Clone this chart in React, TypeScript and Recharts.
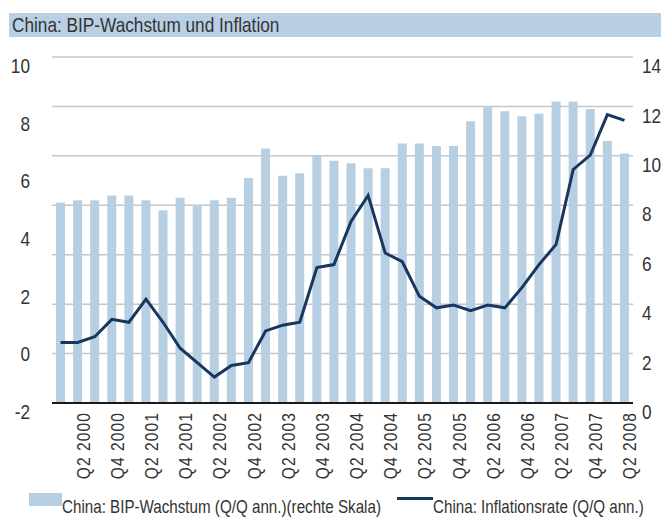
import React from "react"
import { ComposedChart, Bar, Line, XAxis, YAxis, CartesianGrid } from "recharts"

const quarters = [
  "Q1 2000", "Q2 2000", "Q3 2000", "Q4 2000",
  "Q1 2001", "Q2 2001", "Q3 2001", "Q4 2001",
  "Q1 2002", "Q2 2002", "Q3 2002", "Q4 2002",
  "Q1 2003", "Q2 2003", "Q3 2003", "Q4 2003",
  "Q1 2004", "Q2 2004", "Q3 2004", "Q4 2004",
  "Q1 2005", "Q2 2005", "Q3 2005", "Q4 2005",
  "Q1 2006", "Q2 2006", "Q3 2006", "Q4 2006",
  "Q1 2007", "Q2 2007", "Q3 2007", "Q4 2007",
  "Q1 2008", "Q2 2008",
]

// BIP-Wachstum (rechte Skala)
const gdpGrowth = [
  8.1, 8.2, 8.2, 8.4, 8.4, 8.2, 7.8, 8.3,
  8.0, 8.2, 8.3, 9.1, 10.3, 9.2, 9.3, 10.0,
  9.8, 9.7, 9.5, 9.5, 10.5, 10.5, 10.4, 10.4,
  11.4, 12.0, 11.8, 11.6, 11.7, 12.2, 12.2, 11.9,
  10.6, 10.1,
]

// Inflationsrate (linke Skala)
const inflation = [
  0.1, 0.1, 0.3, 0.9, 0.8, 1.6, 0.8, -0.1,
  -0.6, -1.1, -0.7, -0.6, 0.5, 0.7, 0.8, 2.7,
  2.8, 4.3, 5.2, 3.2, 2.9, 1.7, 1.3, 1.4,
  1.2, 1.4, 1.3, 2.0, 2.8, 3.5, 6.1, 6.6,
  8.0, 7.8,
]

const leftTicks = [-2, 0, 2, 4, 6, 8, 10]
const rightTicks = [0, 2, 4, 6, 8, 10, 12, 14]
const xLabels = quarters.filter((q) => q.startsWith("Q2") || q.startsWith("Q4"))

// Arial-Narrow-Ersatz: Liberation Sans, horizontal gestaucht
const FONT = "'Liberation Sans', Arial, sans-serif"
const NARROW = 0.82
const BAR_COLOR = "#b7cfe3"
const LINE_COLOR = "#17375e"
const TEXT_COLOR = "#333333"

const data = quarters.map((q, i) => ({
  quarter: q,
  gdp: gdpGrowth[i],
  cpi: inflation[i],
}))

const LeftTick = ({ x, y, payload }: any) => (
  <text
    transform={`translate(${x}, ${y + 9}) scale(${NARROW}, 1)`}
    textAnchor="end"
    dominantBaseline="central"
    fontSize={21}
    fill={TEXT_COLOR}
    fontFamily={FONT}
  >
    {payload.value}
  </text>
)

const RightTick = ({ x, y, payload }: any) => (
  <text
    transform={`translate(${x}, ${y + 9}) scale(${NARROW}, 1)`}
    textAnchor="start"
    dominantBaseline="central"
    fontSize={21}
    fill={TEXT_COLOR}
    fontFamily={FONT}
  >
    {payload.value}
  </text>
)

const BottomTick = ({ x, y, payload }: any) => (
  <text
    transform={`translate(${x + 12}, ${y}) rotate(-90) scale(${NARROW}, 1)`}
    textAnchor="end"
    fontSize={19}
    letterSpacing={1.3}
    fill={TEXT_COLOR}
    fontFamily={FONT}
  >
    {payload.value}
  </text>
)

const narrowText: React.CSSProperties = {
  position: "absolute",
  fontFamily: FONT,
  color: TEXT_COLOR,
  whiteSpace: "nowrap",
  transform: `scaleX(${NARROW})`,
  transformOrigin: "left center",
}

export default function App() {
  return (
    <div style={{ position: "absolute", left: 0, top: 0, width: 661, height: 519, background: "#fff", overflow: "hidden" }}>
      <div style={{ position: "absolute", left: 9, top: 13, width: 652, height: 24, background: "#b9cfe3" }} />
      <div style={{ ...narrowText, left: 12, top: 12, fontSize: 21, lineHeight: "26px" }}>
        China: BIP-Wachstum und Inflation
      </div>

      <ComposedChart
        width={661}
        height={519}
        data={data}
        margin={{ top: 57, right: 0, bottom: 0, left: 0 }}
        style={{ position: "absolute", left: 0, top: 0 }}
      >
        <CartesianGrid yAxisId="right" vertical={false} stroke="#c6c6c6" strokeWidth={1.5} />
        <XAxis
          dataKey="quarter"
          ticks={xLabels}
          interval={0}
          height={116}
          tickLine={false}
          tickSize={0}
          tickMargin={9}
          axisLine={{ stroke: "#1a1a1a", strokeWidth: 2 }}
          tick={<BottomTick />}
        />
        <YAxis
          yAxisId="left"
          orientation="left"
          width={52}
          domain={[-2, 10]}
          ticks={leftTicks}
          axisLine={false}
          tickLine={false}
          tickSize={0}
          tickMargin={22}
          tick={<LeftTick />}
        />
        <YAxis
          yAxisId="right"
          orientation="right"
          width={28}
          domain={[0, 14]}
          ticks={rightTicks}
          axisLine={false}
          tickLine={false}
          tickSize={0}
          tickMargin={9}
          tick={<RightTick />}
        />
        <Bar yAxisId="right" dataKey="gdp" fill={BAR_COLOR} barSize={9} isAnimationActive={false} />
        <Line
          yAxisId="left"
          type="linear"
          dataKey="cpi"
          stroke={LINE_COLOR}
          strokeWidth={3}
          dot={false}
          activeDot={false}
          isAnimationActive={false}
        />
      </ComposedChart>

      <div style={{ position: "absolute", left: 29, top: 493, width: 33, height: 13, background: BAR_COLOR }} />
      <div style={{ ...narrowText, left: 62, top: 496, fontSize: 18.5, lineHeight: "22px" }}>
        China: BIP-Wachstum (Q/Q ann.)(rechte Skala)
      </div>
      <div style={{ position: "absolute", left: 397, top: 497, width: 36, height: 3, background: LINE_COLOR }} />
      <div style={{ ...narrowText, left: 433, top: 496, fontSize: 18.5, lineHeight: "22px" }}>
        China: Inflationsrate (Q/Q ann.)
      </div>
    </div>
  )
}
